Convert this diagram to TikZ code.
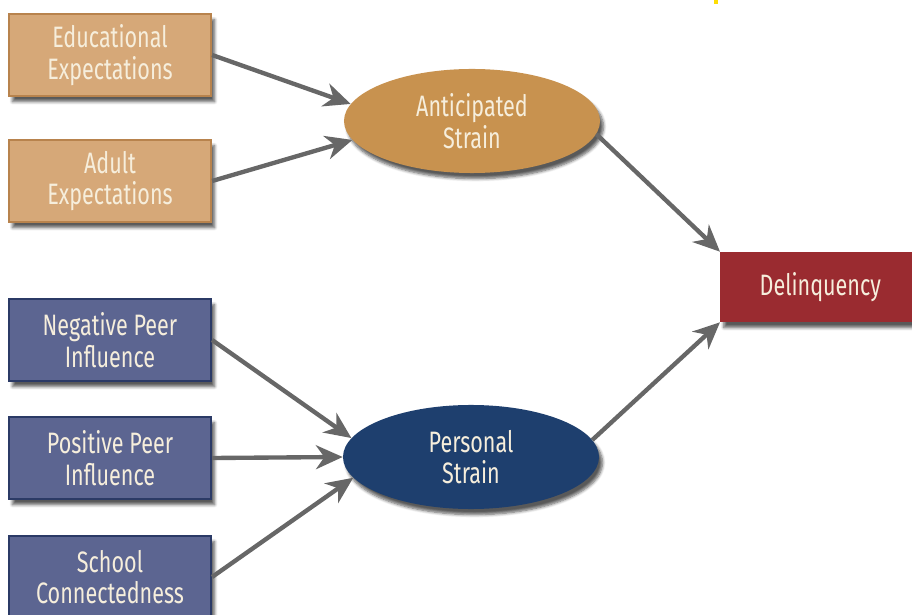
\documentclass[tikz,border=0pt]{standalone}
\usepackage{fontspec}
\setmainfont{Fira Sans}[FakeStretch=0.73]
\usetikzlibrary{arrows.meta,shapes.geometric,shadows.blur}

\definecolor{expfill}{HTML}{D6A878}
\definecolor{expline}{HTML}{B8834D}
\definecolor{peerfill}{HTML}{5C6591}
\definecolor{peerline}{HTML}{2B3A66}
\definecolor{antfill}{HTML}{C8924F}
\definecolor{persfill}{HTML}{1E3F6E}
\definecolor{delfill}{HTML}{9A2B30}
\definecolor{arrowgray}{HTML}{676767}
\definecolor{txt}{HTML}{F6EEDC}

\tikzset{
    every node/.style = {font = \fontsize{21}{22.5}\selectfont, text = txt, align = center},
    softshadow/.style = {blur shadow = {shadow xshift = 2.5pt, shadow yshift = -4pt, shadow blur steps = 6, shadow opacity = 65}},
    expbox/.style = {draw = expline, line width = 1.5pt, fill = expfill, minimum width = 5.05cm, minimum height = 2.05cm, softshadow},
    peerbox/.style = {draw = peerline, line width = 1.5pt, fill = peerfill, minimum width = 5.05cm, minimum height = 2.05cm, softshadow},
    strain/.style = {ellipse, minimum width = 6.4cm, minimum height = 2.6cm, softshadow},
    link/.style = {draw = arrowgray, line width = 3.1pt, -{Stealth[length = 19pt, width = 17pt, inset = 6pt]}}
}

\begin{document}
\begin{tikzpicture}[x = 0.025cm, y = -0.025cm]
        \useasboundingbox (0, 0) rectangle (912, 615);
        \clip (0, 0) rectangle (912, 615);
        \fill [yellow!80!orange] (714, 0) rectangle (718, 4);

        % Expectation boxes and anticipated strain
        \node[expbox] (edu) at (110, 55) {Educational\\Expectations};
        \node[expbox] (adult) at (110, 181) {Adult\\Expectations};
        \node[strain, fill = antfill] (ant) at (472, 121) {Anticipated\\Strain};

        % Peer and school boxes and personal strain
        \node[peerbox] (neg) at (110, 340) {Negative Peer\\Influence};
        \node[peerbox] (pos) at (110, 458) {Positive Peer\\Influence};
        \node[peerbox] (school) at (110, 577) {School\\Connectedness};
        \node[strain, fill = persfill] (pers) at (471, 457) {Personal\\Strain};

        % Outcome
        \node[fill = delfill, minimum width = 5cm, minimum height = 1.75cm, softshadow, anchor = west] (del) at (720, 287) {Delinquency};

        % Paths
        \draw [link] (edu.east) -- (ant.172);
        \draw [link] (adult.east) -- (ant.189);
        \draw [link] (neg.east) -- (pers.171);
        \draw [link] (pos.east) -- (pers.west);
        \draw [link] (school.east) -- (pers.190);
        \draw [link] (ant.-6) -- (del.north west);
        \draw [link] (pers.8) -- (del.south west);
    \end{tikzpicture}
\end{document}
